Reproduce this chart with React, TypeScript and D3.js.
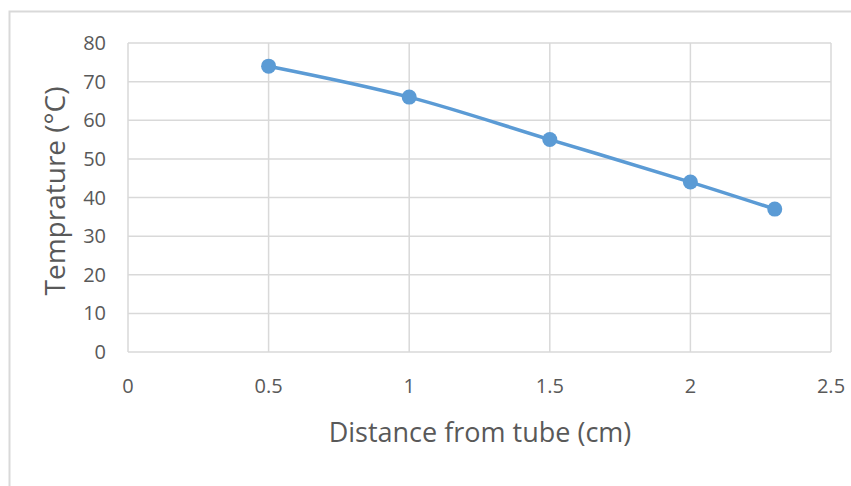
import React from "react";
import * as d3 from "d3";

const distances = [0.5, 1, 1.5, 2, 2.3];
const temperatures = [74, 66, 55, 44, 37];
const xTicks = [0, 0.5, 1, 1.5, 2, 2.5];
const yTicks = [0, 10, 20, 30, 40, 50, 60, 70, 80];
const xTitle = "Distance from tube (cm)";
const yTitle = "Temprature (°C)";

const W = 851;
const H = 486;
const M = { left: 128, top: 43, right: 831, bottom: 352 };
const FONT = "'Open Sans', 'Liberation Sans', sans-serif";
const BLUE = "#5B9BD5";

export default function App() {
  const x = d3.scaleLinear().domain([0, 2.5]).range([M.left, M.right]);
  const y = d3.scaleLinear().domain([0, 80]).range([M.bottom, M.top]);
  const pts: [number, number][] = distances.map((d, i) => [x(d), y(temperatures[i])]);
  const line = d3.line().curve(d3.curveCatmullRom.alpha(0.5))(pts) || "";

  return (
    <svg
      width={W}
      height={H}
      style={{ position: "absolute", left: 0, top: 0, background: "#fff" }}
      fontFamily={FONT}
    >
      <rect x={9.5} y={11.5} width={W} height={H} fill="#fff" stroke="#d9d9d9" strokeWidth={2} />
      {yTicks.map((t) => (
        <line key={"gy" + t} x1={M.left} x2={M.right} y1={y(t)} y2={y(t)} stroke="#d9d9d9" strokeWidth={1.5} />
      ))}
      {xTicks.map((t) => (
        <line key={"gx" + t} x1={x(t)} x2={x(t)} y1={M.top} y2={M.bottom} stroke="#d9d9d9" strokeWidth={1.5} />
      ))}
      {yTicks.map((t) => (
        <text key={"ty" + t} x={106} y={y(t)} dy="0.35em" textAnchor="end" fontSize={20} fill="#595959">
          {t}
        </text>
      ))}
      {xTicks.map((t) => (
        <text key={"tx" + t} x={x(t)} y={386} dy="0.35em" textAnchor="middle" fontSize={20} fill="#595959">
          {t}
        </text>
      ))}
      <text x={480} y={433} dy="0.35em" textAnchor="middle" fontSize={27} fill="#595959">
        {xTitle}
      </text>
      <text
        transform={`translate(55,191) rotate(-90)`}
        dy="0.35em"
        textAnchor="middle"
        fontSize={28}
        fill="#595959"
      >
        {yTitle}
      </text>
      <path d={line} fill="none" stroke={BLUE} strokeWidth={3.5} strokeLinecap="round" />
      {pts.map((p, i) => (
        <circle key={i} cx={p[0]} cy={p[1]} r={7.5} fill={BLUE} />
      ))}
    </svg>
  );
}
